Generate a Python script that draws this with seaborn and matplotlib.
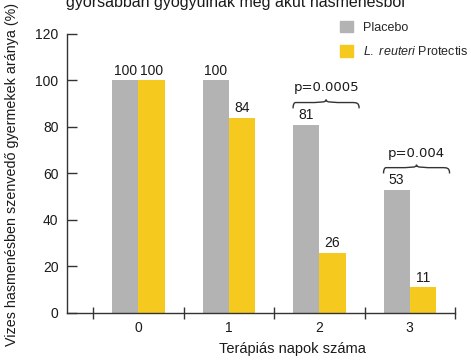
import numpy as np
import pandas as pd
import matplotlib
matplotlib.use("Agg")
import matplotlib.pyplot as plt
from matplotlib.path import Path
from matplotlib.patches import PathPatch
import seaborn as sns

days = ["0", "1", "2", "3"]
placebo = [100, 100, 81, 53]
reuteri = [100, 84, 26, 11]
group_names = ["Placebo", "L. reuteri Protectis"]
p_days = [2, 3]
p_texts = ["p=0.0005", "p=0.004"]

df = pd.DataFrame({
    "day": days * 2,
    "value": placebo + reuteri,
    "group": [group_names[0]] * 4 + [group_names[1]] * 4,
})

sns.set_style("white", {"ytick.left": True, "xtick.bottom": True})
plt.rcParams["font.family"] = ["Liberation Sans", "DejaVu Sans"]
plt.rcParams["mathtext.fontset"] = "custom"
plt.rcParams["mathtext.it"] = "Liberation Sans:italic"
plt.rcParams["mathtext.rm"] = "Liberation Sans"

fig = plt.figure(figsize=(4.71, 3.61), dpi=100)
ax = fig.add_axes([0.142, 0.133, 0.824, 0.773])

palette = {group_names[0]: "#b3b3b3", group_names[1]: "#f6c91e"}
sns.barplot(data=df, x="day", y="value", hue="group", palette=palette,
            width=0.58, saturation=1, linewidth=0, ax=ax, legend=False)

for cont in ax.containers:
    ax.bar_label(cont, padding=2, fontsize=10, color="#1a1a1a")

ax.set_xlim(-0.79, 3.5)
ax.set_ylim(0, 120)
ax.set_yticks(range(0, 121, 20))
ax.set_xlabel("")
ax.set_ylabel("")
sns.despine(ax=ax)
for s in ["left", "bottom"]:
    ax.spines[s].set_color("#333333")
    ax.spines[s].set_linewidth(1.0)
ax.tick_params(axis="y", left=True, direction="in", length=7, width=1,
               color="#333333", labelsize=10, labelcolor="#1a1a1a", pad=6)
ax.set_xticks(np.arange(len(days)))
ax.set_xticklabels(days)
ax.set_xticks(np.arange(len(days) + 1) - 0.5, minor=True)
ax.tick_params(axis="x", which="major", bottom=True, length=0, labelsize=10,
               labelcolor="#1a1a1a", pad=6)
ax.tick_params(axis="x", which="minor", bottom=True, direction="inout",
               length=8, width=1, color="#333333")


def brace(ax, x0, x1, y, h=2.5):
    xm = (x0 + x1) / 2
    w = x1 - x0
    verts = [
        (x0, y - h),
        (x0, y), (x0 + 0.04 * w, y),
        (x0 + 0.12 * w, y),
        (xm - 0.06 * w, y), (xm, y), (xm, y + 0.5 * h),
        (xm, y), (xm + 0.06 * w, y), (x1 - 0.12 * w, y),
        (x1 - 0.04 * w, y), (x1, y), (x1, y - h),
    ]
    codes = [Path.MOVETO,
             Path.CURVE3, Path.CURVE3,
             Path.LINETO,
             Path.CURVE4, Path.CURVE4, Path.CURVE4,
             Path.CURVE4, Path.CURVE4, Path.CURVE4,
             Path.CURVE4, Path.CURVE4, Path.CURVE4]
    ax.add_patch(PathPatch(Path(verts, codes), fill=False, lw=1.0,
                           color="#333333", clip_on=False))


for d, txt in zip(p_days, p_texts):
    top = placebo[d]
    x0, x1 = d - 0.29, d + 0.44
    brace(ax, x0, x1, top + 9.5)
    ax.text((x0 + x1) / 2, top + 13, txt, ha="center", va="bottom",
            fontsize=9.5, family="DejaVu Sans", color="#1a1a1a")

handles = [plt.Rectangle((0, 0), 1, 1, color=palette[g]) for g in group_names]
labels = ["Placebo", r"$\it{L.\ reuteri}$ Protectis"]
fig.legend(handles, labels, loc="upper left", bbox_to_anchor=(0.712, 0.955),
           frameon=False, fontsize=9, handlelength=1.0, handleheight=1.0,
           handletextpad=0.8, labelspacing=0.9, borderaxespad=0)

fig.text(0.50, 1 - 7 / 361, "gyorsabban gyógyulnak meg akut hasmenésből",
         ha="center", va="baseline", fontsize=11.5, color="#1a1a1a")
fig.text(12 / 471, 1 - 174 / 361,
         "Vizes hasmenésben szenvedő gyermekek aránya (%)",
         rotation=90, ha="center", va="center", fontsize=10.3, color="#1a1a1a")
fig.text(292 / 471, 1 - 349 / 361, "Terápiás napok száma",
         ha="center", va="center", fontsize=10.5, color="#1a1a1a")

fig.savefig("out.png", dpi=100)
